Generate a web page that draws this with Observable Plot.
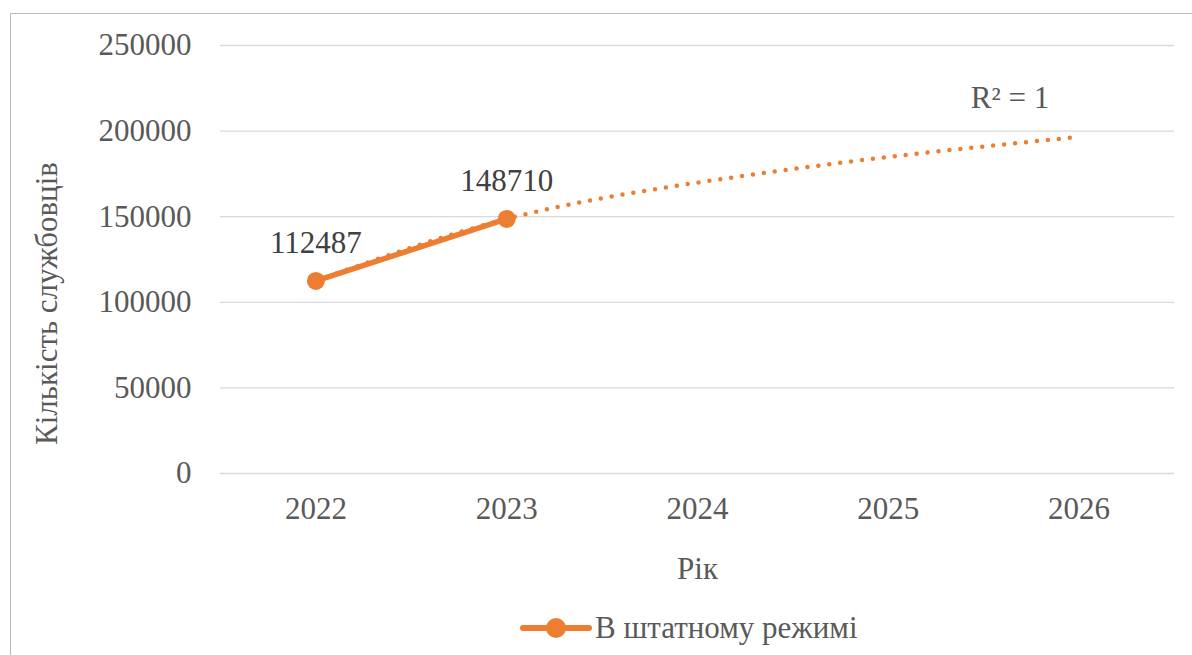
<!DOCTYPE html>
<html>
<head>
<meta charset="utf-8">
<script src="https://cdn.jsdelivr.net/npm/d3@7"></script>
<script src="https://cdn.jsdelivr.net/npm/@observablehq/plot@0.6"></script>
</head>
<body style="margin:0;background:#fff;font-family:'Liberation Serif';font-size:31px">
<div id="zq-frame" style="position:relative;width:1192px;height:655px;overflow:hidden;background:#fff;font-family:'Liberation Serif'">
  <div style="position:absolute;left:10px;top:13px;width:1300px;height:800px;border-left:1.5px solid #b8b8b8;border-top:1.5px solid #b8b8b8;box-sizing:border-box"></div>
  <div id="zq-chart" style="position:absolute;left:0;top:0;font-family:'Liberation Serif'"></div>
  <div id="zq-key" style="position:absolute;left:520px;top:600px;height:55px;display:flex;align-items:center;font-family:'Liberation Serif';font-size:31px;color:#595959"></div>
</div>
<script>
// Data
const years = [2022, 2023, 2024, 2025, 2026];
const actualYears = [2022, 2023];
const actualValues = [112487, 148710];
const trendValues = [112487, 148710, 169900, 184900, 196600];
const yTicks = [0, 50000, 100000, 150000, 200000, 250000];
const seriesName = "В штатному режимі";
const xTitle = "Рік";
const yTitle = "Кількість службовців";
const r2Label = "R² = 1";

const orange = "#ED7D31";
const actual = actualYears.map((x, i) => ({x, y: actualValues[i]}));
const trend = years.map((x, i) => ({x, y: trendValues[i]}));
const last = trend[trend.length - 1];

const chart = Plot.plot({
  width: 1192,
  height: 600,
  marginLeft: 220,
  marginRight: 18,
  marginTop: 45,
  marginBottom: 127,
  x: {type: "linear", domain: [2021.5, 2026.5]},
  y: {domain: [0, 250000]},
  style: {
    fontFamily: "Liberation Serif",
    fontSize: "31px",
    color: "#595959",
    background: "transparent",
    overflow: "visible"
  },
  marks: [
    Plot.gridY(yTicks, {stroke: "#d9d9d9", strokeOpacity: 1, strokeWidth: 1.3}),
    Plot.axisY({ticks: yTicks, tickSize: 0, tickPadding: 29, tickFormat: d => String(d), label: null}),
    Plot.axisX({ticks: years, tickSize: 0, tickPadding: 23, tickFormat: d => String(d), label: null}),
    Plot.line(trend, {x: "x", y: "y", curve: "natural", stroke: orange, strokeWidth: 4.5,
      strokeDasharray: "0 11", strokeLinecap: "round"}),
    Plot.line(actual, {x: "x", y: "y", stroke: orange, strokeWidth: 5.5, strokeLinecap: "round"}),
    Plot.dot(actual, {x: "x", y: "y", r: 9, fill: orange, stroke: "none"}),
    Plot.text(actual, {x: "x", y: "y", text: d => String(d.y), dy: -38, fill: "#404040"}),
    Plot.text([r2Label], {x: () => last.x, y: () => last.y, text: d => d, dx: -69, dy: -39, fill: "#595959"}),
    Plot.text([xTitle], {frameAnchor: "bottom", text: d => d, textAnchor: "middle", lineAnchor: "middle", dy: 96, fill: "#595959"}),
    Plot.text([yTitle], {frameAnchor: "left", text: d => d, rotate: -90, textAnchor: "middle", lineAnchor: "middle", dx: -173, dy: 44, fill: "#595959"})
  ]
});
document.getElementById("zq-chart").appendChild(chart);

// Legend
const key = d3.select("#zq-key");
const sw = key.append("svg").attr("width", 72).attr("height", 22);
sw.append("line").attr("x1", 3).attr("x2", 69).attr("y1", 11).attr("y2", 11)
  .attr("stroke", orange).attr("stroke-width", 6).attr("stroke-linecap", "round");
sw.append("circle").attr("cx", 36).attr("cy", 11).attr("r", 10).attr("fill", orange);
key.append("span").style("margin-left", "3px").text(seriesName);
</script>
</body>
</html>
